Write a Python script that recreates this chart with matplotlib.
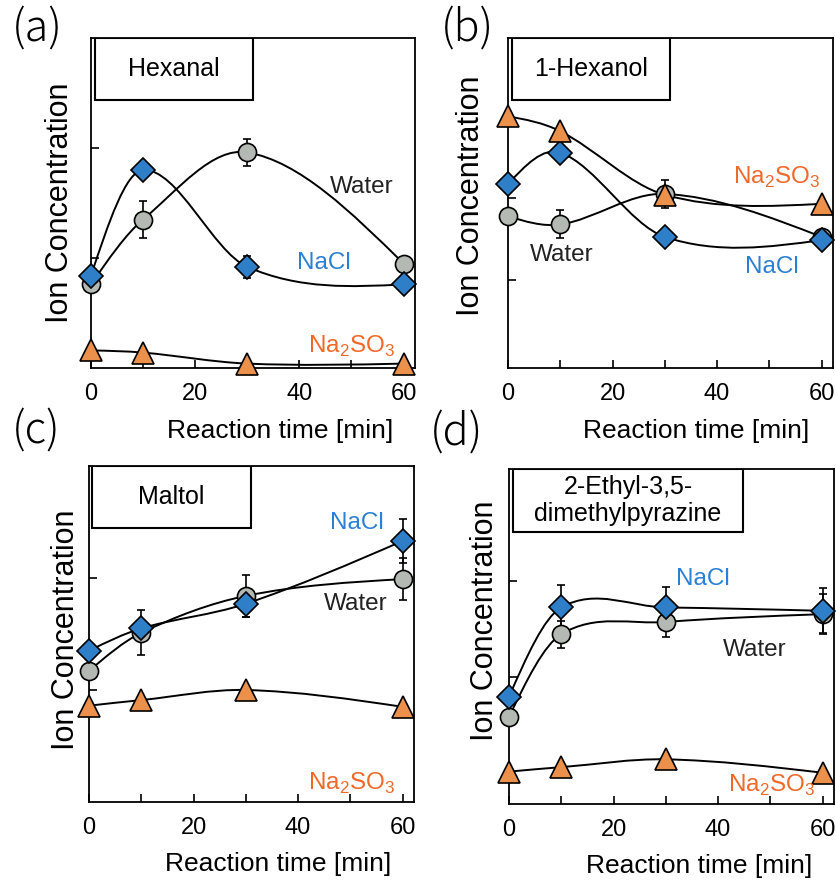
import numpy as np
import matplotlib
matplotlib.use("Agg")
import matplotlib.pyplot as plt
from matplotlib.path import Path
from matplotlib.patches import PathPatch, Rectangle

tider = [0, 10, 30, 60]  # Reaktionstid [min]

# (a) Hexanal
hexanal_vand = [0.76, 1.35, 1.96, 0.95]
hexanal_vand_fejl = [0, 0.17, 0.12, 0]
hexanal_nacl = [0.84, 1.80, 0.92, 0.76]
hexanal_nacl_fejl = [0, 0, 0.10, 0]
hexanal_na2so3 = [0.16, 0.14, 0.04, 0.04]

# (b) 1-Hexanol
hexanol_vand = [1.84, 1.74, 2.11, 1.59]
hexanol_vand_fejl = [0, 0.17, 0.17, 0]
hexanol_nacl = [2.23, 2.61, 1.59, 1.55]
hexanol_nacl_fejl = [0, 0, 0, 0]
hexanol_na2so3 = [3.05, 2.87, 2.10, 1.99]

# (c) Maltol
maltol_vand = [1.17, 1.51, 1.84, 1.99]
maltol_vand_fejl = [0, 0.20, 0.19, 0.19]
maltol_nacl = [1.35, 1.55, 1.77, 2.33]
maltol_nacl_fejl = [0, 0, 0.12, 0.20]
maltol_na2so3 = [0.86, 0.91, 1.00, 0.85]

# (d) 2-Ethyl-3,5-dimethylpyrazine
pyrazin_vand = [0.78, 1.52, 1.63, 1.70]
pyrazin_vand_fejl = [0, 0.12, 0.13, 0.18]
pyrazin_nacl = [0.96, 1.76, 1.76, 1.73]
pyrazin_nacl_fejl = [0, 0.20, 0.18, 0.20]
pyrazin_na2so3 = [0.29, 0.33, 0.40, 0.28]

vand_farve = "#b5b9b3"
nacl_farve = "#2f7fc8"
na2so3_farve = "#ec914c"
nacl_tekst = "#2b7fd4"
na2so3_tekst = "#ef6a2a"

plt.rcParams["font.family"] = ["Liberation Sans", "DejaVu Sans"]

B, H = 837, 886
fig = plt.figure(figsize=(B / 100, H / 100), dpi=100)


def glat_kurve(ax, x, y):
    # Catmull-Rom-agtig kurve (naturlige ender) tegnet som Bezier-stykker
    x = np.asarray(x, float)
    y = np.asarray(y, float)
    n = len(x)
    h = np.diff(x)
    s = np.diff(y) / h
    d = np.empty(n)
    d[1:-1] = (y[2:] - y[:-2]) / (x[2:] - x[:-2])
    d[0] = (3 * s[0] - d[1]) / 2
    d[-1] = (3 * s[-1] - d[-2]) / 2
    punkter = [(x[0], y[0])]
    koder = [Path.MOVETO]
    for i in range(n - 1):
        punkter += [(x[i] + h[i] / 3, y[i] + d[i] * h[i] / 3),
                    (x[i + 1] - h[i] / 3, y[i + 1] - d[i + 1] * h[i] / 3),
                    (x[i + 1], y[i + 1])]
        koder += [Path.CURVE4] * 3
    ax.add_patch(PathPatch(Path(punkter, koder), fill=False, lw=1.4,
                           edgecolor="black", zorder=2, clip_on=False))


paneler = [
    dict(bogstav="(a)", navn="Hexanal", rect=(91, 38, 415, 368), ylim=(0, 3), yticks=[1, 2],
         vand=(hexanal_vand, hexanal_vand_fejl), nacl=(hexanal_nacl, hexanal_nacl_fejl),
         na2so3=hexanal_na2so3, boks=(0.012, 0.5, 0.812), bogstav_pos=(37, 29),
         ylab=(-0.05, 0.5), xlab=(0.583, -0.155),
         pos_vand=(0.836, 0.548), pos_nacl=(0.719, 0.318), pos_na2so3=(0.806, 0.064)),
    dict(bogstav="(b)", navn="1-Hexanol", rect=(508, 38, 833, 368), ylim=(0, 4), yticks=[1.07, 2.06],
         vand=(hexanol_vand, hexanol_vand_fejl), nacl=(hexanol_nacl, hexanol_nacl_fejl),
         na2so3=hexanol_na2so3, boks=(0.012, 0.498, 0.812), bogstav_pos=(467, 29),
         ylab=(-0.068, 0.521), xlab=(0.58, -0.155),
         pos_vand=(0.166, 0.342), pos_nacl=(0.812, 0.306), pos_na2so3=(0.828, 0.578)),
    dict(bogstav="(c)", navn="Maltol", rect=(89, 466, 414, 802), ylim=(0, 3), yticks=[1, 2],
         vand=(maltol_vand, maltol_vand_fejl), nacl=(maltol_nacl, maltol_nacl_fejl),
         na2so3=maltol_na2so3, boks=(0.01, 0.498, 0.814), bogstav_pos=(36, 431),
         ylab=(-0.025, 0.512), xlab=(0.583, -0.15),
         pos_vand=(0.82, 0.59), pos_nacl=(0.825, 0.829), pos_na2so3=(0.809, 0.054)),
    dict(bogstav="(d)", navn="2-Ethyl-3,5-\ndimethylpyrazine", rect=(509, 469, 834, 804), ylim=(0, 3),
         yticks=[1.14, 2.0],
         vand=(pyrazin_vand, pyrazin_vand_fejl), nacl=(pyrazin_nacl, pyrazin_nacl_fejl),
         na2so3=pyrazin_na2so3, boks=(0.012, 0.72, 0.8125), bogstav_pos=(457, 433),
         ylab=(-0.028, 0.548), xlab=(0.585, -0.15),
         pos_vand=(0.757, 0.461), pos_nacl=(0.597, 0.673), pos_na2so3=(0.809, 0.056)),
]

for p in paneler:
    l, t, r, b = p["rect"]
    ax = fig.add_axes([l / B, 1 - b / H, (r - l) / B, (b - t) / H])
    ax.set_xlim(0, 62.2)
    ax.set_ylim(*p["ylim"])
    ax.set_xticks([0, 20, 40, 60])
    ax.set_xticks([10, 30, 50], minor=True)
    ax.set_yticks(p["yticks"])
    ax.set_yticklabels([])
    ax.tick_params(direction="in", length=6, width=1.2, labelsize=17, pad=11)
    ax.tick_params(which="minor", direction="in", length=6, width=1.2)
    for s in ax.spines.values():
        s.set_linewidth(1.3)

    # kurver
    vand, vand_fejl = p["vand"]
    nacl, nacl_fejl = p["nacl"]
    glat_kurve(ax, tider, vand)
    glat_kurve(ax, tider, nacl)
    glat_kurve(ax, tider, p["na2so3"])

    # fejlbjælker og markører
    ax.errorbar(tider, vand, yerr=vand_fejl, fmt="none", ecolor="black",
                elinewidth=1.2, capsize=3, capthick=1.2, zorder=3, clip_on=False)
    ax.errorbar(tider, nacl, yerr=nacl_fejl, fmt="none", ecolor="black",
                elinewidth=1.2, capsize=3, capthick=1.2, zorder=3, clip_on=False)
    ax.plot(tider, vand, "o", ms=13, mfc=vand_farve, mec="black", mew=1.2,
            zorder=4, clip_on=False)
    ax.plot(tider, nacl, "D", ms=12.5, mfc=nacl_farve, mec="black", mew=1.2,
            zorder=5, clip_on=False)
    ax.plot(tider, p["na2so3"], "^", ms=15.5, mfc=na2so3_farve, mec="black", mew=1.2,
            zorder=6, clip_on=False)

    # boks med stofnavn
    x0, x1, y0 = p["boks"]
    ax.add_patch(Rectangle((x0, y0), x1 - x0, 1 - y0, transform=ax.transAxes,
                           fill=False, edgecolor="black", lw=1.5, zorder=7))
    ax.text((x0 + x1) / 2, (y0 + 1) / 2, p["navn"], transform=ax.transAxes,
            ha="center", va="center", fontsize=18, linespacing=1.15, zorder=8)

    # serienavne
    ax.text(*p["pos_vand"], "Water", transform=ax.transAxes, ha="center", va="center",
            fontsize=17.5, color="#222222", zorder=8)
    ax.text(*p["pos_nacl"], "NaCl", transform=ax.transAxes, ha="center", va="center",
            fontsize=17.5, color=nacl_tekst, zorder=8)
    ax.text(*p["pos_na2so3"], r"Na$_\mathregular{2}$SO$_\mathregular{3}$",
            transform=ax.transAxes, ha="center", va="center",
            fontsize=17.5, color=na2so3_tekst, zorder=8)

    ax.set_ylabel("Ion Concentration", fontsize=22)
    ax.yaxis.set_label_coords(*p["ylab"])
    ax.set_xlabel("Reaction time [min]", fontsize=19)
    ax.xaxis.set_label_coords(*p["xlab"])

    bx, by = p["bogstav_pos"]
    fig.text(bx / B, 1 - by / H, p["bogstav"], ha="center", va="center",
             fontsize=31, fontweight="light",
             family=["Noto Sans CJK JP", "DejaVu Sans"])

fig.savefig("out.png", dpi=100)
